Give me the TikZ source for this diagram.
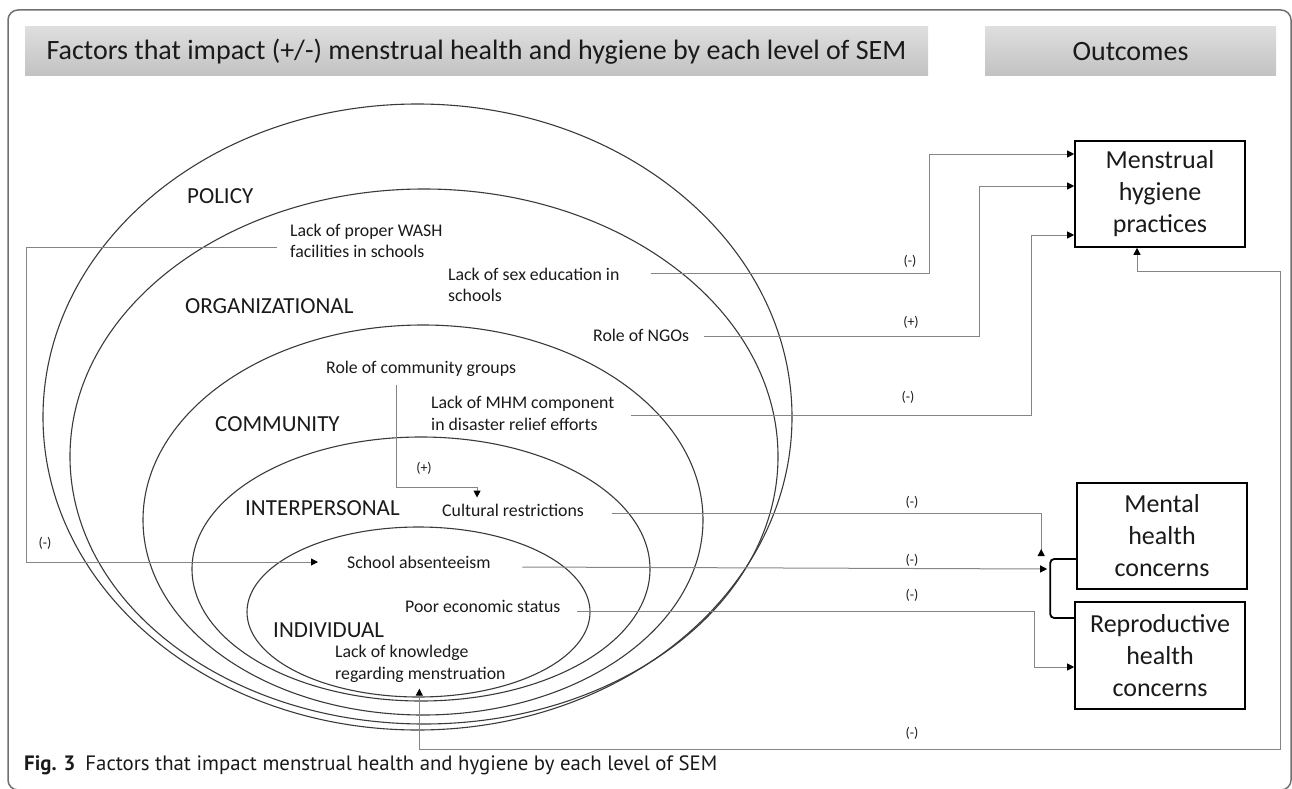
\documentclass[tikz,border=0pt]{standalone}
\usepackage{fontspec}
\setmainfont{Carlito}
\newfontfamily\captionface{PT Sans}
\usetikzlibrary{arrows.meta}
\definecolor{framegray}{HTML}{707070}
\definecolor{linkgray}{HTML}{858585}
\definecolor{ringgray}{HTML}{3A3A3A}
\definecolor{bartop}{HTML}{DEDEDE}
\definecolor{barbottom}{HTML}{C2C2C2}
\definecolor{ink}{HTML}{1A1A1A}
\tikzset{
  blacktri/.tip={Triangle[length=7pt,width=7pt,color=black]},
  backtri/.tip={Triangle[length=7pt,width=7pt,reversed,color=black]},
}
\begin{document}
\begin{tikzpicture}[x=1pt,y=-1pt,
  every node/.style={text=ink},
  ring/.style={draw=ringgray,line width=1.1pt},
  levelname/.style={anchor=west,inner sep=0pt,font=\fontsize{23}{27}\selectfont},
  factor/.style={anchor=west,inner sep=0pt,align=left,font=\fontsize{17.8}{21.5}\selectfont},
  sign/.style={inner sep=0pt,font=\fontsize{14}{16}\selectfont},
  outcome/.style={draw=black,line width=1.6pt,align=center,inner sep=0pt,
    minimum width=170pt,minimum height=106pt,font=\fontsize{26}{32}\selectfont},
  headbar/.style={top color=bartop,bottom color=barbottom,draw=none,inner sep=0pt,
    minimum height=49pt,font=\fontsize{28}{32}\selectfont},
  tip/.style={-blacktri},
  link/.style={draw=linkgray,line width=1pt},
  brace/.style={draw=black,line width=1.8pt,rounded corners=4pt},
]
\useasboundingbox (0,0) rectangle (1292,789);
% outer frame
\draw[framegray,line width=1.5pt,rounded corners=10pt] (8,10) rectangle (1291,790);

% header bars
\node[headbar,minimum width=903pt] (factorsbar) at (476.5,51.5)
  {Factors that impact (+/-) menstrual health and hygiene by each level of SEM};
\node[headbar,minimum width=291pt] (outcomesbar) at (1130.5,51.5) {Outcomes};

% nested levels of the socio-ecological model
\draw[ring] (417.5,417) ellipse [x radius=374.5,y radius=313];
\draw[ring] (424,456.5) ellipse [x radius=354,y radius=267.5];
\draw[ring] (423,520) ellipse [x radius=280,y radius=195];
\draw[ring] (421,569) ellipse [x radius=229,y radius=132];
\draw[ring] (418.5,612) ellipse [x radius=171.5,y radius=85];

% level names
\node[levelname] (policy) at (187,196) {POLICY};
\node[levelname] (organizational) at (185,306) {ORGANIZATIONAL};
\node[levelname] (community) at (215,424) {COMMUNITY};
\node[levelname] (interpersonal) at (245,508) {INTERPERSONAL};
\node[levelname] (individual) at (273,630) {INDIVIDUAL};

% factors
\node[factor] (wash) at (290,241) {Lack of proper WASH\\facilities in schools};
\node[factor] (sexed) at (448,285) {Lack of sex education in\\schools};
\node[factor] (ngos) at (593,335) {Role of NGOs};
\node[factor] (groups) at (326,369) {Role of community groups};
\node[factor] (mhm) at (431,413.5) {Lack of MHM component\\in disaster relief efforts};
\node[factor] (cultural) at (442,510) {Cultural restrictions};
\node[factor] (absent) at (347,562) {School absenteeism};
\node[factor] (poor) at (405,606) {Poor economic status};
\node[factor] (knowledge) at (335,664) {Lack of knowledge\\regarding menstruation};

% outcomes
\node[outcome] (hygiene) at (1160,194) {Menstrual\\hygiene\\practices};
\node[outcome] (mental) at (1162,536) {Mental\\health\\concerns};
\node[outcome,minimum height=107pt] (repro) at (1160,655.5) {Reproductive\\health\\concerns};

% bracket joining the two health outcomes
\draw[brace] ([yshift=-23pt]mental.west) -- ++(-26,0) |- ([yshift=37.5pt]repro.west);
\coordinate (cultin) at ([xshift=-35pt,yshift=-20pt]mental.west);
\coordinate (absentin) at ([xshift=-29pt,yshift=-33pt]mental.west);

% links
\draw[link,tip] ([xshift=-13pt,yshift=-6pt]wash.west) -- ++(-251,0) |- ([xshift=-29pt]absent.west);
\node[sign] (washsign) at (45,543) {(-)};

\draw[link,tip] ([xshift=31pt,yshift=12pt]sexed.east) -- ++(279,0) |- ([yshift=40pt]hygiene.west);
\node[sign] (sexedsign) at (910,261) {(-)};

\draw[link,tip] ([xshift=15pt,yshift=-1pt]ngos.east) -- ++(275,0) |- ([yshift=8pt]hygiene.west);
\node[sign] (ngosign) at (911,322) {(+)};

\draw[link,tip] ([xshift=16.5pt,yshift=-1.5pt]mhm.east) -- ++(400,0) |- ([yshift=-41pt]hygiene.west);
\node[sign] (mhmsign) at (908,397) {(-)};

\draw[link,tip] ([xshift=-25pt,yshift=-8pt]groups.south) -- ++(0,103) -| ([xshift=-36pt,yshift=6pt]cultural.north);
\node[sign] (groupsign) at (424,468) {(+)};

\draw[link,-backtri] ([xshift=27.6pt,yshift=-3pt]cultural.east) -| (cultin);
\node[sign] (culturalsign) at (912,502) {(-)};

\draw[link,tip] ([xshift=31.5pt,yshift=-5pt]absent.east) -- (absentin);
\node[sign] (absentsign) at (912,560) {(-)};

\draw[link,tip] ([xshift=16.7pt,yshift=-5pt]poor.east) -- ++(457,0) |- ([yshift=-11.5pt]repro.west);
\node[sign] (poorsign) at (912,595) {(-)};

\draw[link,blacktri-blacktri]
  ([xshift=-1pt,yshift=-6pt]knowledge.south) -- ++(0,61) -| ++(861,-478) -| ([xshift=-23pt]hygiene.south);
\node[sign] (knowledgesign) at (912,733) {(-)};

% caption
\node[anchor=base west,inner sep=0pt,font=\captionface\fontsize{20.8}{24}\selectfont] (caption) at (24,770)
  {\textbf{Fig. 3}\hspace{10pt}Factors that impact menstrual health and hygiene by each level of SEM};
\end{tikzpicture}
\end{document}
